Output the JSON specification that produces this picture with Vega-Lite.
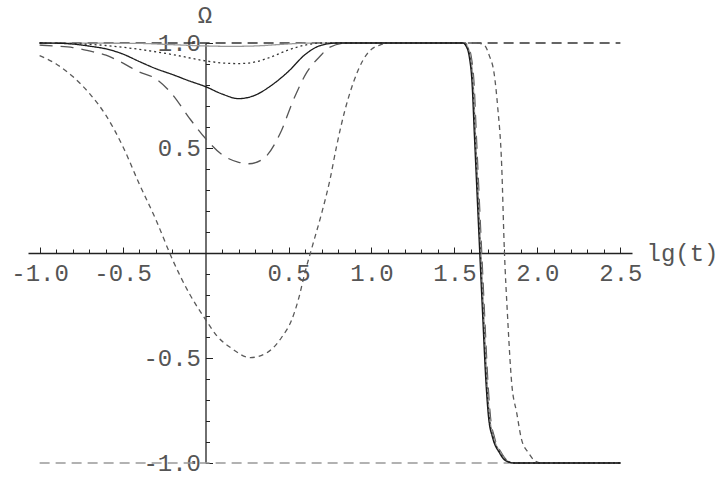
{
  "$schema": "https://vega.github.io/schema/vega-lite/v6.json",
  "autosize": "none",
  "width": 604,
  "height": 420,
  "padding": {"left": 28, "top": 43, "right": 96, "bottom": 22},
  "background": "white",
  "view": {"stroke": null},
  "data": {"values": [
    {"s": "top", "x": -1.0, "y": 1.0}, {"s": "top", "x": 2.5, "y": 1.0},
    {"s": "bottom", "x": -1.0, "y": -1.0}, {"s": "bottom", "x": 2.5, "y": -1.0},
    {"s": "e", "x": -1.0, "y": 0.94}, {"s": "e", "x": -0.9, "y": 0.9}, {"s": "e", "x": -0.8, "y": 0.84}, {"s": "e", "x": -0.7, "y": 0.76},
    {"s": "e", "x": -0.6, "y": 0.655}, {"s": "e", "x": -0.5, "y": 0.51}, {"s": "e", "x": -0.4, "y": 0.33}, {"s": "e", "x": -0.3, "y": 0.16},
    {"s": "e", "x": -0.2, "y": -0.03}, {"s": "e", "x": -0.1, "y": -0.19}, {"s": "e", "x": 0.0, "y": -0.317}, {"s": "e", "x": 0.07, "y": -0.396},
    {"s": "e", "x": 0.15, "y": -0.45}, {"s": "e", "x": 0.27, "y": -0.498}, {"s": "e", "x": 0.37, "y": -0.475}, {"s": "e", "x": 0.46, "y": -0.4},
    {"s": "e", "x": 0.52, "y": -0.317}, {"s": "e", "x": 0.56, "y": -0.22}, {"s": "e", "x": 0.6, "y": -0.09}, {"s": "e", "x": 0.65, "y": 0.05},
    {"s": "e", "x": 0.7, "y": 0.19}, {"s": "e", "x": 0.75, "y": 0.35}, {"s": "e", "x": 0.79, "y": 0.51}, {"s": "e", "x": 0.84, "y": 0.68},
    {"s": "e", "x": 0.89, "y": 0.81}, {"s": "e", "x": 0.95, "y": 0.92}, {"s": "e", "x": 1.0, "y": 0.97}, {"s": "e", "x": 1.05, "y": 0.99},
    {"s": "e", "x": 1.1, "y": 1.0}, {"s": "e", "x": 1.64, "y": 1.0}, {"s": "e", "x": 1.68, "y": 0.99}, {"s": "e", "x": 1.71, "y": 0.94},
    {"s": "e", "x": 1.74, "y": 0.85}, {"s": "e", "x": 1.76, "y": 0.7}, {"s": "e", "x": 1.785, "y": 0.41}, {"s": "e", "x": 1.8, "y": 0.03},
    {"s": "e", "x": 1.82, "y": -0.3}, {"s": "e", "x": 1.845, "y": -0.62}, {"s": "e", "x": 1.875, "y": -0.76}, {"s": "e", "x": 1.905, "y": -0.89},
    {"s": "e", "x": 1.945, "y": -0.95}, {"s": "e", "x": 1.985, "y": -0.99}, {"s": "e", "x": 2.03, "y": -1.0}, {"s": "e", "x": 2.5, "y": -1.0},
    {"s": "c", "x": -1.0, "y": 0.99}, {"s": "c", "x": -0.9, "y": 0.985}, {"s": "c", "x": -0.8, "y": 0.978}, {"s": "c", "x": -0.7, "y": 0.962},
    {"s": "c", "x": -0.6, "y": 0.942}, {"s": "c", "x": -0.5, "y": 0.905}, {"s": "c", "x": -0.4, "y": 0.862}, {"s": "c", "x": -0.3, "y": 0.83},
    {"s": "c", "x": -0.2, "y": 0.755}, {"s": "c", "x": -0.1, "y": 0.645}, {"s": "c", "x": 0.0, "y": 0.545}, {"s": "c", "x": 0.1, "y": 0.468},
    {"s": "c", "x": 0.2, "y": 0.432}, {"s": "c", "x": 0.26, "y": 0.425}, {"s": "c", "x": 0.35, "y": 0.45}, {"s": "c", "x": 0.45, "y": 0.57},
    {"s": "c", "x": 0.53, "y": 0.73}, {"s": "c", "x": 0.61, "y": 0.86}, {"s": "c", "x": 0.69, "y": 0.937}, {"s": "c", "x": 0.75, "y": 0.98},
    {"s": "c", "x": 0.85, "y": 1.0}, {"s": "c", "x": 1.562, "y": 1.0}, {"s": "c", "x": 1.582, "y": 0.985}, {"s": "c", "x": 1.602, "y": 0.93},
    {"s": "c", "x": 1.617, "y": 0.82}, {"s": "c", "x": 1.632, "y": 0.56}, {"s": "c", "x": 1.662, "y": 0.04}, {"s": "c", "x": 1.682, "y": -0.3},
    {"s": "c", "x": 1.702, "y": -0.62}, {"s": "c", "x": 1.717, "y": -0.78}, {"s": "c", "x": 1.742, "y": -0.88}, {"s": "c", "x": 1.782, "y": -0.95},
    {"s": "c", "x": 1.822, "y": -0.99}, {"s": "c", "x": 1.872, "y": -1.0}, {"s": "c", "x": 2.5, "y": -1.0},
    {"s": "d", "x": -1.0, "y": 1.0}, {"s": "d", "x": -0.4, "y": 0.998}, {"s": "d", "x": -0.2, "y": 0.992}, {"s": "d", "x": 0.0, "y": 0.986},
    {"s": "d", "x": 0.15, "y": 0.984}, {"s": "d", "x": 0.3, "y": 0.986}, {"s": "d", "x": 0.45, "y": 0.993}, {"s": "d", "x": 0.6, "y": 0.999},
    {"s": "d", "x": 0.8, "y": 1.0}, {"s": "d", "x": 1.557, "y": 1.0}, {"s": "d", "x": 1.577, "y": 0.985}, {"s": "d", "x": 1.597, "y": 0.93},
    {"s": "d", "x": 1.612, "y": 0.82}, {"s": "d", "x": 1.627, "y": 0.56}, {"s": "d", "x": 1.657, "y": 0.04}, {"s": "d", "x": 1.677, "y": -0.3},
    {"s": "d", "x": 1.697, "y": -0.62}, {"s": "d", "x": 1.712, "y": -0.78}, {"s": "d", "x": 1.737, "y": -0.88}, {"s": "d", "x": 1.777, "y": -0.95},
    {"s": "d", "x": 1.817, "y": -0.99}, {"s": "d", "x": 1.867, "y": -1.0}, {"s": "d", "x": 2.5, "y": -1.0},
    {"s": "b", "x": -1.0, "y": 1.0}, {"s": "b", "x": -0.8, "y": 0.997}, {"s": "b", "x": -0.6, "y": 0.988}, {"s": "b", "x": -0.4, "y": 0.97},
    {"s": "b", "x": -0.2, "y": 0.945}, {"s": "b", "x": 0.0, "y": 0.915}, {"s": "b", "x": 0.1, "y": 0.905}, {"s": "b", "x": 0.2, "y": 0.902},
    {"s": "b", "x": 0.3, "y": 0.91}, {"s": "b", "x": 0.4, "y": 0.935}, {"s": "b", "x": 0.5, "y": 0.967}, {"s": "b", "x": 0.6, "y": 0.99},
    {"s": "b", "x": 0.7, "y": 1.0}, {"s": "b", "x": 1.554, "y": 1.0}, {"s": "b", "x": 1.574, "y": 0.985}, {"s": "b", "x": 1.594, "y": 0.93},
    {"s": "b", "x": 1.609, "y": 0.82}, {"s": "b", "x": 1.624, "y": 0.56}, {"s": "b", "x": 1.654, "y": 0.04}, {"s": "b", "x": 1.674, "y": -0.3},
    {"s": "b", "x": 1.694, "y": -0.62}, {"s": "b", "x": 1.709, "y": -0.78}, {"s": "b", "x": 1.734, "y": -0.88}, {"s": "b", "x": 1.774, "y": -0.95},
    {"s": "b", "x": 1.814, "y": -0.99}, {"s": "b", "x": 1.864, "y": -1.0}, {"s": "b", "x": 2.5, "y": -1.0},
    {"s": "a", "x": -1.0, "y": 1.0}, {"s": "a", "x": -0.9, "y": 0.999}, {"s": "a", "x": -0.8, "y": 0.995}, {"s": "a", "x": -0.7, "y": 0.985},
    {"s": "a", "x": -0.6, "y": 0.972}, {"s": "a", "x": -0.5, "y": 0.948}, {"s": "a", "x": -0.4, "y": 0.912}, {"s": "a", "x": -0.3, "y": 0.878},
    {"s": "a", "x": -0.2, "y": 0.85}, {"s": "a", "x": -0.1, "y": 0.82}, {"s": "a", "x": 0.0, "y": 0.792}, {"s": "a", "x": 0.1, "y": 0.757},
    {"s": "a", "x": 0.2, "y": 0.735}, {"s": "a", "x": 0.3, "y": 0.752}, {"s": "a", "x": 0.4, "y": 0.8}, {"s": "a", "x": 0.5, "y": 0.865},
    {"s": "a", "x": 0.6, "y": 0.945}, {"s": "a", "x": 0.7, "y": 0.99}, {"s": "a", "x": 0.8, "y": 1.0}, {"s": "a", "x": 1.55, "y": 1.0},
    {"s": "a", "x": 1.57, "y": 0.985}, {"s": "a", "x": 1.59, "y": 0.93}, {"s": "a", "x": 1.605, "y": 0.82}, {"s": "a", "x": 1.62, "y": 0.56},
    {"s": "a", "x": 1.65, "y": 0.04}, {"s": "a", "x": 1.67, "y": -0.3}, {"s": "a", "x": 1.69, "y": -0.62}, {"s": "a", "x": 1.705, "y": -0.78},
    {"s": "a", "x": 1.73, "y": -0.88}, {"s": "a", "x": 1.77, "y": -0.95}, {"s": "a", "x": 1.81, "y": -0.99}, {"s": "a", "x": 1.86, "y": -1.0},
    {"s": "a", "x": 2.5, "y": -1.0}
  ]},
  "mark": {"type": "line", "interpolate": "monotone", "clip": false},
  "encoding": {
    "x": {
      "field": "x", "type": "quantitative",
      "scale": {"domain": [-1.07, 2.57], "nice": false, "zero": false},
      "axis": {
        "orient": "bottom", "offset": -210, "grid": false,
        "values": [-1, -0.9, -0.8, -0.7, -0.6, -0.5, -0.4, -0.3, -0.2, -0.1, 0.1, 0.2, 0.3, 0.4, 0.5, 0.6, 0.7, 0.8, 0.9, 1, 1.1, 1.2, 1.3, 1.4, 1.5, 1.6, 1.7, 1.8, 1.9, 2, 2.1, 2.2, 2.3, 2.4, 2.5],
        "tickSize": -6,
        "tickDash": {"condition": {"test": "abs(datum.value*2 - round(datum.value*2)) < 0.001", "value": [6, 0]}, "value": [4, 20]},
        "tickColor": "#222", "tickWidth": 1, "domainColor": "#222", "domainWidth": 1.3,
        "labelExpr": "(datum.value == 0 || abs(datum.value*2 - round(datum.value*2)) > 0.001) ? '' : (datum.value < 0 ? '-' : '') + format(abs(datum.value), '.1f')",
        "labelFont": "Liberation Mono", "labelFontSize": 24, "labelColor": "#555",
        "labelBaseline": "middle", "labelPadding": 26, "labelOverlap": false, "labelFlush": false, "labelBound": false,
        "title": "lg(t)", "titleFont": "Liberation Mono", "titleFontSize": 24, "titleFontWeight": "normal", "titleColor": "#555",
        "titleAlign": "left", "titleBaseline": "middle", "titleX": 618, "titleY": 0, "titleAngle": 0
      }
    },
    "y": {
      "field": "y", "type": "quantitative",
      "scale": {"domain": [-1, 1], "nice": false, "zero": false},
      "axis": {
        "orient": "left", "offset": -177.5, "grid": false,
        "values": [-1, -0.9, -0.8, -0.7, -0.6, -0.5, -0.4, -0.3, -0.2, -0.1, 0.1, 0.2, 0.3, 0.4, 0.5, 0.6, 0.7, 0.8, 0.9, 1],
        "tickSize": -7,
        "tickDash": {"condition": {"test": "abs(datum.value*2 - round(datum.value*2)) < 0.001", "value": [7, 0]}, "value": [4, 20]},
        "tickColor": "#222", "tickWidth": 1, "domainColor": "#222", "domainWidth": 1.3,
        "labelExpr": "(datum.value == 0 || abs(datum.value*2 - round(datum.value*2)) > 0.001) ? '' : (datum.value < 0 ? '-' : '') + format(abs(datum.value), '.1f')",
        "labelFont": "Liberation Mono", "labelFontSize": 24, "labelColor": "#555",
        "labelAlign": "right", "labelBaseline": "middle", "labelPadding": 12, "labelOverlap": false, "labelFlush": false, "labelBound": false,
        "title": "Ω", "titleFont": "Liberation Mono", "titleFontSize": 24, "titleFontWeight": "normal", "titleColor": "#555",
        "titleAlign": "center", "titleBaseline": "middle", "titleX": -1, "titleY": -28, "titleAngle": 0
      }
    },
    "color": {
      "field": "s", "type": "nominal", "legend": null,
      "scale": {"domain": ["top", "bottom", "a", "b", "c", "d", "e"], "range": ["#333333", "#999999", "#1a1a1a", "#333333", "#555555", "#999999", "#5a5a5a"]}
    },
    "strokeDash": {
      "field": "s", "type": "nominal", "legend": null,
      "scale": {"domain": ["top", "bottom", "a", "b", "c", "d", "e"], "range": [[10, 6], [10, 6], [1, 0], [2, 3], [13, 8], [1, 0], [5, 4]]}
    },
    "strokeWidth": {
      "field": "s", "type": "nominal", "legend": null,
      "scale": {"domain": ["top", "bottom", "a", "b", "c", "d", "e"], "range": [1.3, 1.3, 1.6, 1.6, 1.6, 1.8, 1.4]}
    }
  }
}
